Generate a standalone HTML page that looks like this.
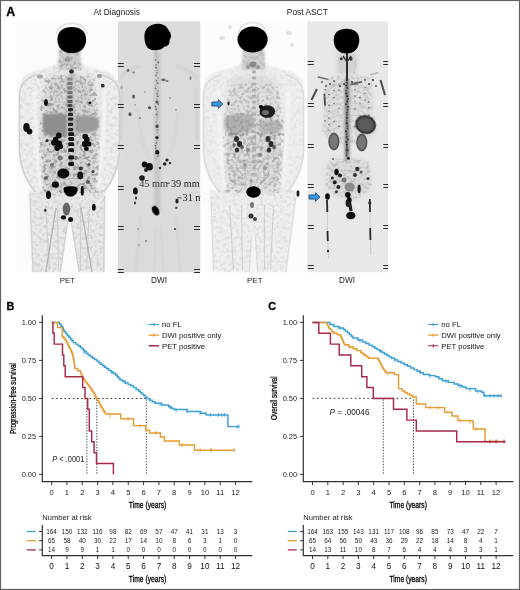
<!DOCTYPE html>
<html><head><meta charset="utf-8"><title>Figure</title>
<style>
html,body{margin:0;padding:0;background:#fff;}
body{width:520px;height:590px;overflow:hidden;font-family:"Liberation Sans",sans-serif;}
svg{display:block;filter:blur(0.35px);}
</style></head><body>
<svg width="520" height="590" viewBox="0 0 520 590">
<defs>
<filter id="b05" filterUnits="userSpaceOnUse" x="0" y="0" width="520" height="590"><feGaussianBlur stdDeviation="0.5"/></filter>
<filter id="b1" filterUnits="userSpaceOnUse" x="0" y="0" width="520" height="590"><feGaussianBlur stdDeviation="1"/></filter>
<filter id="b2" filterUnits="userSpaceOnUse" x="0" y="0" width="520" height="590"><feGaussianBlur stdDeviation="2"/></filter>
<filter id="b3" filterUnits="userSpaceOnUse" x="0" y="0" width="520" height="590"><feGaussianBlur stdDeviation="3"/></filter>
<filter id="mot" filterUnits="userSpaceOnUse" x="0" y="0" width="520" height="590">
<feTurbulence type="fractalNoise" baseFrequency="0.3" numOctaves="2" seed="7" result="n"/>
<feColorMatrix in="n" type="matrix" values="0 0 0 0 0  0 0 0 0 0  0 0 0 0 0  -4 0 0 0 2.2" result="a"/>
<feComposite in="a" in2="SourceGraphic" operator="in" result="c"/><feGaussianBlur in="c" stdDeviation="0.6"/>
</filter>
<filter id="mot2" filterUnits="userSpaceOnUse" x="0" y="0" width="520" height="590">
<feTurbulence type="fractalNoise" baseFrequency="0.3" numOctaves="2" seed="11" result="n"/>
<feColorMatrix in="n" type="matrix" values="0 0 0 0 0  0 0 0 0 0  0 0 0 0 0  -4 0 0 0 2.2" result="a"/>
<feComposite in="a" in2="SourceGraphic" operator="in" result="c"/><feGaussianBlur in="c" stdDeviation="0.6"/>
</filter>
</defs>
<rect x="0" y="0" width="520" height="590" fill="#fff"/>
<rect x="16.5" y="20.8" width="100.5" height="251.5" fill="#fbfbfb"/><rect x="117.8" y="21.4" width="82.6" height="250.8" fill="#dbdbdb"/><rect x="203.8" y="20.8" width="101" height="251.5" fill="#fbfbfb"/><rect x="307.3" y="21.4" width="80.7" height="250.8" fill="#e8e8e8"/><path d="M57.5,50 L57.5,63 C53.5,67 39.5,69 29.5,73 C22.5,76 19.5,82 19.0,92 L19.0,150 C19.5,165 24.5,180 34.5,192 L35.5,196 L103.5,196 L104.5,192 C114.5,180 119.5,165 120.0,150 L120.0,92 C119.5,82 116.5,76 109.5,73 C99.5,69 85.5,67 81.5,63 L81.5,50 Z" fill="#ededed" filter="url(#b1)"/><path d="M29.0,190 L105.4,190 L104.5,272 L32.3,272 Z" fill="#e9e9e9" filter="url(#b1)"/><path d="M47.5,78 C61.5,74 77.5,74 91.5,78 C99.5,110 99.5,160 95.5,192 L43.5,192 C39.5,160 39.5,110 47.5,78 Z" fill="#d6d6d6" filter="url(#b3)"/><path d="M45.5,77 C61.5,73 77.5,73 93.5,77 C101.5,110 101.5,160 96.5,193 L42.5,193 C37.5,160 37.5,110 45.5,77 Z" fill="#000" opacity="0.2" filter="url(#mot)"/><path d="M57.5,50 L57.5,63 C53.5,67 39.5,69 29.5,73 C22.5,76 19.5,82 19.0,92 L19.0,150 C19.5,165 24.5,180 34.5,192 L35.5,196 L103.5,196 L104.5,192 C114.5,180 119.5,165 120.0,150 L120.0,92 C119.5,82 116.5,76 109.5,73 C99.5,69 85.5,67 81.5,63 L81.5,50 Z" fill="#000" opacity="0.06" filter="url(#mot)"/><path d="M29.0,190 L105.4,190 L104.5,272 L32.3,272 Z" fill="#000" opacity="0.08000000000000002" filter="url(#mot)"/><path d="M68.5,221 L70.5,221 L78.5,272.5 L61.0,272.5 Z" fill="#fafafa" filter="url(#b05)"/><path d="M36.5,75 C23.5,79 20.0,86 19.5,95 L19.5,150 C20.0,166 25.5,180 35.5,192" stroke="#d0d0d0" stroke-width="1.6" fill="none" filter="url(#b05)"/><path d="M34.5,90 C35.0,120 36.0,150 40.5,188" stroke="#f4f4f4" stroke-width="3.4" fill="none" filter="url(#b1)"/><path d="M102.5,75 C115.5,79 119.0,86 119.5,95 L119.5,150 C119.0,166 113.5,180 103.5,192" stroke="#d0d0d0" stroke-width="1.6" fill="none" filter="url(#b05)"/><path d="M104.5,90 C104.0,120 103.0,150 98.5,188" stroke="#f4f4f4" stroke-width="3.4" fill="none" filter="url(#b1)"/><path d="M30.0,196 L33.099999999999994,272 M104.4,196 L103.7,272 M67.5,223 L60.2,272 M71.5,223 L79.3,272" stroke="#d0d0d0" stroke-width="1.2" fill="none" filter="url(#b05)"/><path d="M45.5,205 L49.5,270 M57.5,205 L58.5,270 M89.5,205 L86.5,270 M80.5,205 L80.5,270" stroke="#d0d0d0" stroke-width="1.2" fill="none" filter="url(#b05)"/><path d="M59.5,48 L79.5,48 L81.5,70 L57.5,70 Z" fill="#cfcfcf" filter="url(#b1)"/><path d="M59.5,50 L79.5,50 L81.5,70 L57.5,70 Z" fill="#000" opacity="0.16000000000000003" filter="url(#mot)"/><path d="M56,208 L45.8,272 M81,208 L92,272" stroke="#b4b4b4" stroke-width="1.4" fill="none" filter="url(#b05)"/><path d="M43,116 C44,113 58,113 67,114 L67,137 C58,137 48,137 44,133 C42.5,128 42.5,121 43,116 Z" fill="#8e8e8e" filter="url(#b1)"/><path d="M75,116 C82,115 94,115 98,118 C99,124 98.5,129 96,131 C90,132 82,133 75,132 Z" fill="#9a9a9a" filter="url(#b1)"/><path d="M67,114 L75,116 L75,132 L67,137 Z" fill="#b4b4b4" filter="url(#b1)"/><rect x="66.5" y="76" width="7" height="34" fill="#b8b8b8" filter="url(#b1)"/><ellipse cx="71.5" cy="71.5" rx="2.4" ry="2.2" fill="#2a2a2a" filter="url(#b05)"/><rect x="67.3" y="77.6" width="5.2" height="2.8" rx="1.2" fill="#8c8c8c" filter="url(#b05)"/><rect x="67.3" y="82.1" width="5.2" height="2.8" rx="1.2" fill="#7a7a7a" filter="url(#b05)"/><rect x="67.3" y="86.6" width="5.2" height="2.8" rx="1.2" fill="#7c7c7c" filter="url(#b05)"/><rect x="67.3" y="91.1" width="5.2" height="2.8" rx="1.2" fill="#707070" filter="url(#b05)"/><rect x="67.3" y="95.6" width="5.2" height="2.8" rx="1.2" fill="#666" filter="url(#b05)"/><rect x="67.3" y="100.1" width="5.2" height="2.8" rx="1.2" fill="#5a5a5a" filter="url(#b05)"/><rect x="67.3" y="104.1" width="5.2" height="2.8" rx="1.2" fill="#4a4a4a" filter="url(#b05)"/><rect x="68.0" y="108.0" width="5.2" height="3.3" rx="1.2" fill="#262626" filter="url(#b05)"/><rect x="68.0" y="112.8" width="5.2" height="3.3" rx="1.2" fill="#262626" filter="url(#b05)"/><rect x="68.0" y="117.4" width="5.2" height="3.3" rx="1.2" fill="#262626" filter="url(#b05)"/><rect x="68.0" y="122.8" width="5.2" height="3.3" rx="1.2" fill="#262626" filter="url(#b05)"/><rect x="68.0" y="127.9" width="5.2" height="3.3" rx="1.2" fill="#262626" filter="url(#b05)"/><rect x="68.3" y="132.3" width="5.8" height="3.8" rx="1.2" fill="#151515" filter="url(#b05)"/><rect x="68.3" y="137.1" width="5.8" height="3.8" rx="1.2" fill="#151515" filter="url(#b05)"/><rect x="68.3" y="142.3" width="5.8" height="3.8" rx="1.2" fill="#151515" filter="url(#b05)"/><rect x="68.3" y="148.3" width="5.8" height="3.8" rx="1.2" fill="#151515" filter="url(#b05)"/><rect x="68.3" y="155.6" width="5.8" height="3.8" rx="1.2" fill="#151515" filter="url(#b05)"/><rect x="68.3" y="162.1" width="5.8" height="3.8" rx="1.2" fill="#151515" filter="url(#b05)"/><ellipse cx="58.8" cy="135.4" rx="2.8" ry="3" fill="#080808" filter="url(#b05)"/><ellipse cx="55.6" cy="139.6" rx="2.8" ry="2.8" fill="#080808" filter="url(#b05)"/><ellipse cx="54" cy="142.8" rx="2.8" ry="3" fill="#080808" filter="url(#b05)"/><ellipse cx="58.8" cy="143.9" rx="3.4" ry="3.4" fill="#080808" filter="url(#b05)"/><ellipse cx="57.2" cy="148.1" rx="2.8" ry="2.8" fill="#080808" filter="url(#b05)"/><ellipse cx="60.9" cy="146.5" rx="2.3" ry="2.5" fill="#101010" filter="url(#b05)"/><ellipse cx="47.1" cy="140.7" rx="1.5" ry="1.4" fill="#222" filter="url(#b05)"/><ellipse cx="85.2" cy="136.5" rx="2.8" ry="2.8" fill="#080808" filter="url(#b05)"/><ellipse cx="86.8" cy="139.6" rx="2.8" ry="2.8" fill="#080808" filter="url(#b05)"/><ellipse cx="84.7" cy="143.9" rx="2.8" ry="3" fill="#080808" filter="url(#b05)"/><ellipse cx="88.9" cy="143.9" rx="2.4" ry="2.6" fill="#101010" filter="url(#b05)"/><ellipse cx="86.3" cy="148.6" rx="2.4" ry="2.5" fill="#101010" filter="url(#b05)"/><ellipse cx="26.5" cy="127.5" rx="3.2" ry="4.4" fill="#080808" filter="url(#b05)"/><ellipse cx="29.5" cy="131.5" rx="2.8" ry="3" fill="#080808" filter="url(#b05)"/><ellipse cx="46" cy="102.5" rx="1.9" ry="3.6" fill="#111" filter="url(#b05)"/><ellipse cx="90" cy="102.8" rx="1.4" ry="1.4" fill="#111" filter="url(#b05)"/><ellipse cx="102.7" cy="85.7" rx="1.9" ry="1.9" fill="#333" filter="url(#b05)"/><ellipse cx="99.5" cy="76" rx="2.6" ry="2" fill="#999" filter="url(#b05)"/><ellipse cx="40" cy="76.5" rx="3" ry="2" fill="#a8a8a8" filter="url(#b05)"/><ellipse cx="63.3" cy="173.5" rx="6" ry="5" fill="#0e0e0e" filter="url(#b05)"/><ellipse cx="80.3" cy="175.4" rx="3" ry="3.8" fill="#151515" filter="url(#b05)"/><ellipse cx="80.8" cy="168.5" rx="2" ry="2" fill="#333" filter="url(#b05)"/><ellipse cx="55.4" cy="184.6" rx="3.6" ry="3.2" fill="#0c0c0c" filter="url(#b05)"/><ellipse cx="48.5" cy="195" rx="2.6" ry="4" fill="#0c0c0c" filter="url(#b05)"/><ellipse cx="82.3" cy="190.8" rx="1.6" ry="5" fill="#111" filter="url(#b05)"/><ellipse cx="93.8" cy="207.3" rx="1.9" ry="3.5" fill="#111" filter="url(#b05)"/><ellipse cx="66.5" cy="209" rx="3.8" ry="6.5" fill="#666" filter="url(#b05)"/><ellipse cx="63.5" cy="217.4" rx="2.6" ry="2.2" fill="#111" filter="url(#b05)"/><ellipse cx="70.6" cy="219.4" rx="2.5" ry="2.5" fill="#111" filter="url(#b05)"/><ellipse cx="45.3" cy="210.3" rx="1.2" ry="1.5" fill="#333" filter="url(#b05)"/><ellipse cx="67.5" cy="59.5" rx="3" ry="2.2" fill="#999" filter="url(#b05)"/><ellipse cx="93" cy="171.5" rx="1.5" ry="1.5" fill="#444" filter="url(#b05)"/><ellipse cx="89" cy="164.6" rx="1.5" ry="1.5" fill="#555" filter="url(#b05)"/><ellipse cx="52" cy="165" rx="2" ry="2" fill="#777" filter="url(#b05)"/><ellipse cx="88" cy="182" rx="2" ry="2" fill="#555" filter="url(#b05)"/><ellipse cx="46" cy="178" rx="2" ry="2" fill="#666" filter="url(#b05)"/><ellipse cx="60" cy="158" rx="2.5" ry="2.5" fill="#777" filter="url(#b05)"/><ellipse cx="76" cy="158" rx="2" ry="2" fill="#777" filter="url(#b05)"/><path d="M63.6,188.5 C63.8,185.6 77.4,185.6 77.6,188.5 C78,193 74.5,196.6 70.6,196.6 C66.8,196.6 63.3,193 63.6,188.5 Z" fill="#050505" filter="url(#b05)"/><path d="M56.5,34 C58.5,26 65,23.4 71.8,23.4 C78.5,23.4 85,26 87,34" stroke="#e0e0e0" stroke-width="1.6" fill="none" filter="url(#b05)"/><path d="M57.4,39.5 C57.4,31 63.5,27 71.8,27 C80,27 86.1,31 86.1,39.5 C86.1,47.5 80.5,53.3 71.8,53.3 C63,53.3 57.4,47.5 57.4,39.5 Z" fill="#000" filter="url(#b05)"/><path d="M121,80 C124,70 132,68 140,67 M176,67 C186,68 194,72 197,80 M121.5,88 L121,140 M196,88 L197,140" stroke="#cdcdcd" stroke-width="2" fill="none" filter="url(#b1)"/><path d="M138,110 C140,140 146,150 150,160 M178,110 C176,140 172,150 168,160" stroke="#d0d0d0" stroke-width="1.5" fill="none" filter="url(#b1)"/><path d="M140,215 L136,272 M176,215 L180,272 M156,225 L154,272 M161,225 L163,272" stroke="#cfcfcf" stroke-width="1.5" fill="none" filter="url(#b1)"/><path d="M117.8,63.5h6M117.8,66.5h6" stroke="#2a2a2a" stroke-width="1"/><path d="M117.8,104.5h6M117.8,107.5h6" stroke="#2a2a2a" stroke-width="1"/><path d="M117.8,145.5h6M117.8,148.5h6" stroke="#2a2a2a" stroke-width="1"/><path d="M117.8,186.5h6M117.8,189.5h6" stroke="#2a2a2a" stroke-width="1"/><path d="M117.8,226.5h6M117.8,229.5h6" stroke="#2a2a2a" stroke-width="1"/><path d="M117.8,269.5h6M117.8,272.5h6" stroke="#2a2a2a" stroke-width="1"/><path d="M194,63.5h6M194,66.5h6" stroke="#2a2a2a" stroke-width="1"/><path d="M194,104.5h6M194,107.5h6" stroke="#2a2a2a" stroke-width="1"/><path d="M194,145.5h6M194,148.5h6" stroke="#2a2a2a" stroke-width="1"/><path d="M194,226.5h6M194,229.5h6" stroke="#2a2a2a" stroke-width="1"/><path d="M194,269.5h6M194,272.5h6" stroke="#2a2a2a" stroke-width="1"/><rect x="154" y="52" width="6.5" height="160" fill="#c8c8c8" filter="url(#b1)"/><ellipse cx="156.2" cy="52.0" rx="0.9" ry="0.9" fill="#aaa" filter="url(#b05)"/><ellipse cx="155.8" cy="54.6" rx="0.9" ry="0.9" fill="#aaa" filter="url(#b05)"/><ellipse cx="156.9" cy="57.2" rx="0.9" ry="0.9" fill="#aaa" filter="url(#b05)"/><ellipse cx="155.6" cy="59.8" rx="0.9" ry="0.9" fill="#777" filter="url(#b05)"/><ellipse cx="158.3" cy="62.4" rx="0.9" ry="0.9" fill="#666" filter="url(#b05)"/><ellipse cx="156.2" cy="65.0" rx="0.9" ry="0.9" fill="#888" filter="url(#b05)"/><ellipse cx="156.0" cy="67.6" rx="0.9" ry="0.9" fill="#666" filter="url(#b05)"/><ellipse cx="157.1" cy="70.2" rx="0.9" ry="0.9" fill="#aaa" filter="url(#b05)"/><ellipse cx="156.9" cy="72.8" rx="0.9" ry="0.9" fill="#888" filter="url(#b05)"/><ellipse cx="156.1" cy="75.4" rx="0.9" ry="0.9" fill="#888" filter="url(#b05)"/><ellipse cx="158.2" cy="78.0" rx="0.9" ry="0.9" fill="#aaa" filter="url(#b05)"/><ellipse cx="156.6" cy="80.6" rx="0.9" ry="0.9" fill="#777" filter="url(#b05)"/><ellipse cx="157.5" cy="83.2" rx="0.9" ry="0.9" fill="#777" filter="url(#b05)"/><ellipse cx="155.9" cy="85.8" rx="0.9" ry="0.9" fill="#aaa" filter="url(#b05)"/><ellipse cx="155.5" cy="88.4" rx="0.9" ry="0.9" fill="#777" filter="url(#b05)"/><ellipse cx="158.0" cy="91.0" rx="0.9" ry="0.9" fill="#999" filter="url(#b05)"/><ellipse cx="156.9" cy="93.6" rx="0.9" ry="0.9" fill="#666" filter="url(#b05)"/><ellipse cx="157.7" cy="96.2" rx="0.9" ry="0.9" fill="#666" filter="url(#b05)"/><ellipse cx="156.7" cy="98.8" rx="0.9" ry="0.9" fill="#aaa" filter="url(#b05)"/><ellipse cx="156.8" cy="101.4" rx="0.9" ry="0.9" fill="#888" filter="url(#b05)"/><ellipse cx="158.2" cy="104.0" rx="0.9" ry="0.9" fill="#777" filter="url(#b05)"/><ellipse cx="155.5" cy="106.6" rx="0.9" ry="0.9" fill="#666" filter="url(#b05)"/><ellipse cx="156.1" cy="109.2" rx="0.9" ry="0.9" fill="#666" filter="url(#b05)"/><ellipse cx="157.9" cy="111.8" rx="0.9" ry="0.9" fill="#999" filter="url(#b05)"/><ellipse cx="156.7" cy="114.4" rx="0.9" ry="0.9" fill="#666" filter="url(#b05)"/><ellipse cx="157.2" cy="117.0" rx="0.9" ry="0.9" fill="#aaa" filter="url(#b05)"/><ellipse cx="157.3" cy="119.6" rx="0.9" ry="0.9" fill="#aaa" filter="url(#b05)"/><ellipse cx="156.1" cy="122.2" rx="0.9" ry="0.9" fill="#999" filter="url(#b05)"/><ellipse cx="157.6" cy="124.8" rx="0.9" ry="0.9" fill="#777" filter="url(#b05)"/><ellipse cx="158.1" cy="127.4" rx="0.9" ry="0.9" fill="#aaa" filter="url(#b05)"/><ellipse cx="157.5" cy="130.0" rx="0.9" ry="0.9" fill="#888" filter="url(#b05)"/><ellipse cx="157.6" cy="132.6" rx="0.9" ry="0.9" fill="#999" filter="url(#b05)"/><ellipse cx="158.5" cy="135.2" rx="0.9" ry="0.9" fill="#aaa" filter="url(#b05)"/><ellipse cx="157.2" cy="137.8" rx="0.9" ry="0.9" fill="#888" filter="url(#b05)"/><ellipse cx="157.4" cy="140.4" rx="0.9" ry="0.9" fill="#aaa" filter="url(#b05)"/><ellipse cx="156.3" cy="143.0" rx="0.9" ry="0.9" fill="#777" filter="url(#b05)"/><ellipse cx="155.6" cy="145.6" rx="0.9" ry="0.9" fill="#666" filter="url(#b05)"/><ellipse cx="155.7" cy="148.2" rx="0.9" ry="0.9" fill="#777" filter="url(#b05)"/><ellipse cx="156.7" cy="150.8" rx="0.9" ry="0.9" fill="#888" filter="url(#b05)"/><ellipse cx="155.5" cy="153.4" rx="0.9" ry="0.9" fill="#666" filter="url(#b05)"/><ellipse cx="157.9" cy="156.0" rx="0.9" ry="0.9" fill="#777" filter="url(#b05)"/><ellipse cx="155.5" cy="158.6" rx="0.9" ry="0.9" fill="#aaa" filter="url(#b05)"/><ellipse cx="157" cy="137.6" rx="1.7" ry="1.7" fill="#222" filter="url(#b05)"/><ellipse cx="157.5" cy="152.5" rx="1.9" ry="1.9" fill="#1a1a1a" filter="url(#b05)"/><ellipse cx="157" cy="126.4" rx="1.6" ry="1.6" fill="#444" filter="url(#b05)"/><ellipse cx="157" cy="102" rx="1.6" ry="1.6" fill="#555" filter="url(#b05)"/><ellipse cx="128" cy="70.5" rx="1.4" ry="1.4" fill="#666" filter="url(#b05)"/><ellipse cx="133.6" cy="72.4" rx="1.1" ry="1.1" fill="#777" filter="url(#b05)"/><ellipse cx="163.4" cy="79.8" rx="2.2" ry="1.4" fill="#666" filter="url(#b05)"/><ellipse cx="133.6" cy="96.6" rx="1.3" ry="2.2" fill="#555" filter="url(#b05)"/><ellipse cx="149.5" cy="107.8" rx="1.5" ry="1.5" fill="#444" filter="url(#b05)"/><ellipse cx="130" cy="114.3" rx="1.5" ry="2" fill="#555" filter="url(#b05)"/><ellipse cx="190.5" cy="78" rx="1.1" ry="2" fill="#888" filter="url(#b05)"/><ellipse cx="121.5" cy="87.3" rx="1.1" ry="2" fill="#aaa" filter="url(#b05)"/><ellipse cx="140" cy="118" rx="1.2" ry="1.2" fill="#999" filter="url(#b05)"/><ellipse cx="135" cy="105" rx="1" ry="1" fill="#aaa" filter="url(#b05)"/><ellipse cx="145" cy="92" rx="1" ry="1" fill="#aaa" filter="url(#b05)"/><ellipse cx="170" cy="98" rx="1.2" ry="1.2" fill="#aaa" filter="url(#b05)"/><ellipse cx="176" cy="110" rx="1" ry="1" fill="#aaa" filter="url(#b05)"/><ellipse cx="167" cy="81" rx="1.5" ry="1" fill="#777" filter="url(#b05)"/><ellipse cx="149.4" cy="166.7" rx="3.6" ry="3.8" fill="#0a0a0a" filter="url(#b05)"/><ellipse cx="144.5" cy="164.5" rx="2.8" ry="3" fill="#111" filter="url(#b05)"/><ellipse cx="146" cy="170" rx="2" ry="2" fill="#222" filter="url(#b05)"/><ellipse cx="142" cy="178" rx="2.8" ry="2.8" fill="#1a1a1a" filter="url(#b05)"/><ellipse cx="135.4" cy="191" rx="2.4" ry="3.6" fill="#0a0a0a" filter="url(#b05)"/><ellipse cx="177" cy="201" rx="1.6" ry="2.6" fill="#222" filter="url(#b05)"/><ellipse cx="164.7" cy="164" rx="1.8" ry="1.8" fill="#222" filter="url(#b05)"/><ellipse cx="167" cy="160" rx="1.6" ry="1.6" fill="#222" filter="url(#b05)"/><ellipse cx="157" cy="151.5" rx="1.8" ry="1.8" fill="#222" filter="url(#b05)"/><ellipse cx="170" cy="163" rx="1.2" ry="1.2" fill="#333" filter="url(#b05)"/><ellipse cx="160" cy="168" rx="1.2" ry="1.2" fill="#333" filter="url(#b05)"/><ellipse cx="136" cy="198" rx="1" ry="1.6" fill="#333" filter="url(#b05)"/><ellipse cx="135" cy="203" rx="1" ry="1.4" fill="#333" filter="url(#b05)"/><ellipse cx="176.3" cy="207.7" rx="1.3" ry="1.3" fill="#555" filter="url(#b05)"/><ellipse cx="138" cy="229" rx="1" ry="1" fill="#aaa" filter="url(#b05)"/><ellipse cx="146" cy="241" rx="1.2" ry="1.2" fill="#999" filter="url(#b05)"/><ellipse cx="139" cy="245" rx="1" ry="1" fill="#aaa" filter="url(#b05)"/><ellipse cx="175" cy="229" rx="1" ry="1" fill="#333" filter="url(#b05)"/><path d="M157.7,23.7 C163,23.7 167,26 168.5,30 C170.5,32 171.3,35 171,37 C170.5,39 169,40 169.5,42 C169.5,45 166,47 164.6,46.5 C162,49.5 158,50.4 154.8,50.2 C151,50.3 148.5,49 147,47 C145,44 144.3,40 144.4,35.8 C144.5,29 150,23.7 157.7,23.7 Z" fill="#000" filter="url(#b05)"/><ellipse cx="155.6" cy="210.6" rx="3.3" ry="5.2" fill="#050505" transform="rotate(-28 155.6 210.6)" filter="url(#b05)"/><text x="139.2" y="186.6" font-family="Liberation Serif" font-size="10.3" font-weight="normal" fill="#333" text-anchor="start"  style="">45 mm</text><text x="170.9" y="186.6" font-family="Liberation Serif" font-size="10.3" font-weight="normal" fill="#222" text-anchor="start"  style="">39 mm</text><text x="182.5" y="201.2" font-family="Liberation Serif" font-size="10.3" font-weight="normal" fill="#222" text-anchor="start"  style="">31 m</text><path d="M166.6,183.2 H170 M177.5,197.8 H181.5" stroke="#333" stroke-width="0.9"/><rect x="200.4" y="176" width="3.4" height="30" fill="#fbfbfb"/><path d="M241.5,50 L241.5,63 C237.5,67 223.5,69 213.5,73 C206.5,76 203.5,82 203.0,92 L203.0,150 C203.5,165 208.5,180 218.5,192 L219.5,196 L287.5,196 L288.5,192 C298.5,180 303.5,165 304.0,150 L304.0,92 C303.5,82 300.5,76 293.5,73 C283.5,69 269.5,67 265.5,63 L265.5,50 Z" fill="#eeeeee" filter="url(#b1)"/><path d="M210.0,190 L297.0,190 L286.5,272 L212.8,272 Z" fill="#eeeeee" filter="url(#b1)"/><path d="M231.5,78 C245.5,74 261.5,74 275.5,78 C283.5,110 283.5,160 279.5,192 L227.5,192 C223.5,160 223.5,110 231.5,78 Z" fill="#dedede" filter="url(#b3)"/><path d="M229.5,86 C245.5,82 261.5,82 277.5,86 C285.5,119 285.5,160 280.5,193 L226.5,193 C221.5,160 221.5,119 229.5,86 Z" fill="#000" opacity="0.12" filter="url(#mot2)"/><path d="M241.5,50 L241.5,63 C237.5,67 223.5,69 213.5,73 C206.5,76 203.5,82 203.0,92 L203.0,150 C203.5,165 208.5,180 218.5,192 L219.5,196 L287.5,196 L288.5,192 C298.5,180 303.5,165 304.0,150 L304.0,92 C303.5,82 300.5,76 293.5,73 C283.5,69 269.5,67 265.5,63 L265.5,50 Z" fill="#000" opacity="0.036" filter="url(#mot2)"/><path d="M210.0,190 L297.0,190 L286.5,272 L212.8,272 Z" fill="#000" opacity="0.048" filter="url(#mot2)"/><path d="M252.5,234 L254.5,234 L257.0,272.5 L250.0,272.5 Z" fill="#f4f4f4" filter="url(#b05)"/><path d="M220.5,75 C207.5,79 204.0,86 203.5,95 L203.5,150 C204.0,166 209.5,180 219.5,192" stroke="#dcdcdc" stroke-width="1.6" fill="none" filter="url(#b05)"/><path d="M218.5,90 C219.0,120 220.0,150 224.5,188" stroke="#f4f4f4" stroke-width="3.4" fill="none" filter="url(#b1)"/><path d="M286.5,75 C299.5,79 303.0,86 303.5,95 L303.5,150 C303.0,166 297.5,180 287.5,192" stroke="#dcdcdc" stroke-width="1.6" fill="none" filter="url(#b05)"/><path d="M288.5,90 C288.0,120 287.0,150 282.5,188" stroke="#f4f4f4" stroke-width="3.4" fill="none" filter="url(#b1)"/><path d="M211.0,196 L213.60000000000002,272 M296.0,196 L285.7,272 M251.5,236 L249.2,272 M255.5,236 L257.8,272" stroke="#dcdcdc" stroke-width="1.2" fill="none" filter="url(#b05)"/><path d="M229.5,205 L233.5,270 M241.5,205 L242.5,270 M273.5,205 L270.5,270 M264.5,205 L264.5,270" stroke="#d0d0d0" stroke-width="1.2" fill="none" filter="url(#b05)"/><path d="M243.5,48 L263.5,48 L265.5,70 L241.5,70 Z" fill="#cfcfcf" filter="url(#b1)"/><path d="M243.5,50 L263.5,50 L265.5,70 L241.5,70 Z" fill="#000" opacity="0.096" filter="url(#mot2)"/><path d="M224.5,118 C227,113.5 240,113 250,114.5 C254,116 255,122 253.5,127 C250,132 240,135.5 230,135 C225.5,132 224,125 224.5,118 Z" fill="#b2b2b2" filter="url(#b1)"/><path d="M259.6,122 C266,119.5 277,119.5 281,122.5 C282,127 281,131 278,133.5 C272,135 265,134.5 260,133 C258.5,129 258.5,125 259.6,122 Z" fill="#b8b8b8" filter="url(#b1)"/><path d="M224,113 L284,113 L284,137 L224,137 Z" fill="#000" opacity="0.1" filter="url(#mot2)"/><path d="M228,132 L280,132 L282,185 L226,185 Z" fill="#000" opacity="0.12" filter="url(#mot)"/><rect x="251.9" y="70.5" width="4.2" height="3.0" rx="1.2" fill="#b0b0b0" filter="url(#b05)"/><rect x="251.9" y="76.5" width="4.2" height="3.0" rx="1.2" fill="#b0b0b0" filter="url(#b05)"/><rect x="251.9" y="82.5" width="4.2" height="3.0" rx="1.2" fill="#b0b0b0" filter="url(#b05)"/><rect x="251.9" y="88.5" width="4.2" height="3.0" rx="1.2" fill="#b0b0b0" filter="url(#b05)"/><rect x="251.9" y="94.5" width="4.2" height="3.0" rx="1.2" fill="#b0b0b0" filter="url(#b05)"/><rect x="251.9" y="100.5" width="4.2" height="3.0" rx="1.2" fill="#b0b0b0" filter="url(#b05)"/><rect x="251.9" y="106.5" width="4.2" height="3.0" rx="1.2" fill="#b0b0b0" filter="url(#b05)"/><rect x="251.9" y="112.5" width="4.2" height="3.0" rx="1.2" fill="#b0b0b0" filter="url(#b05)"/><rect x="251.9" y="118.5" width="4.2" height="3.0" rx="1.2" fill="#b0b0b0" filter="url(#b05)"/><rect x="251.9" y="124.5" width="4.2" height="3.0" rx="1.2" fill="#b0b0b0" filter="url(#b05)"/><rect x="251.9" y="130.5" width="4.2" height="3.0" rx="1.2" fill="#b0b0b0" filter="url(#b05)"/><rect x="251.9" y="136.5" width="4.2" height="3.0" rx="1.2" fill="#b0b0b0" filter="url(#b05)"/><rect x="251.9" y="142.5" width="4.2" height="3.0" rx="1.2" fill="#b0b0b0" filter="url(#b05)"/><rect x="251.9" y="148.5" width="4.2" height="3.0" rx="1.2" fill="#b0b0b0" filter="url(#b05)"/><rect x="251.9" y="154.5" width="4.2" height="3.0" rx="1.2" fill="#b0b0b0" filter="url(#b05)"/><rect x="251.9" y="160.5" width="4.2" height="3.0" rx="1.2" fill="#b0b0b0" filter="url(#b05)"/><rect x="251.9" y="166.5" width="4.2" height="3.0" rx="1.2" fill="#b0b0b0" filter="url(#b05)"/><ellipse cx="267.3" cy="111.5" rx="7.8" ry="6.3" fill="#1e1e1e" filter="url(#b05)"/><ellipse cx="265.5" cy="112.5" rx="3.6" ry="2.6" fill="#6a6a6a" filter="url(#b05)"/><ellipse cx="261" cy="107" rx="2" ry="2" fill="#000" filter="url(#b05)"/><ellipse cx="253.5" cy="192" rx="7.3" ry="5.7" fill="#000" filter="url(#b05)"/><ellipse cx="251" cy="216" rx="2.5" ry="2.5" fill="#333" filter="url(#b05)"/><ellipse cx="255" cy="219" rx="2" ry="2" fill="#444" filter="url(#b05)"/><ellipse cx="252" cy="205" rx="2" ry="3" fill="#777" filter="url(#b05)"/><ellipse cx="298" cy="193.4" rx="1.5" ry="3.2" fill="#222" filter="url(#b05)"/><ellipse cx="228.5" cy="103.5" rx="1.1" ry="1.9" fill="#222" filter="url(#b05)"/><ellipse cx="236.5" cy="139" rx="2.5" ry="3" fill="#333" filter="url(#b05)"/><ellipse cx="239.5" cy="144" rx="2.5" ry="3" fill="#222" filter="url(#b05)"/><ellipse cx="237" cy="150" rx="2.2" ry="2.5" fill="#333" filter="url(#b05)"/><ellipse cx="242" cy="147" rx="1.8" ry="2" fill="#555" filter="url(#b05)"/><ellipse cx="234" cy="145" rx="1.5" ry="2" fill="#666" filter="url(#b05)"/><ellipse cx="268" cy="139" rx="2.5" ry="3" fill="#333" filter="url(#b05)"/><ellipse cx="271" cy="144" rx="2.5" ry="3" fill="#2a2a2a" filter="url(#b05)"/><ellipse cx="269" cy="150" rx="2.2" ry="2.5" fill="#333" filter="url(#b05)"/><ellipse cx="274" cy="147" rx="1.8" ry="2" fill="#555" filter="url(#b05)"/><ellipse cx="248" cy="150" rx="2" ry="2" fill="#888" filter="url(#b05)"/><ellipse cx="260" cy="155" rx="2" ry="2" fill="#888" filter="url(#b05)"/><ellipse cx="245" cy="165" rx="2" ry="2" fill="#999" filter="url(#b05)"/><ellipse cx="265" cy="168" rx="2" ry="2" fill="#999" filter="url(#b05)"/><ellipse cx="253" cy="64.5" rx="3.5" ry="3" fill="#888" filter="url(#b05)"/><ellipse cx="248" cy="67" rx="2" ry="2" fill="#999" filter="url(#b05)"/><ellipse cx="258" cy="67" rx="2" ry="2" fill="#999" filter="url(#b05)"/><ellipse cx="222" cy="38" rx="3" ry="2" fill="#e0e0e0" filter="url(#b05)"/><ellipse cx="230" cy="27" rx="2" ry="2" fill="#e4e4e4" filter="url(#b05)"/><ellipse cx="289" cy="33" rx="3" ry="2" fill="#e2e2e2" filter="url(#b05)"/><ellipse cx="292" cy="45" rx="2" ry="2" fill="#e2e2e2" filter="url(#b05)"/><path d="M238,33 C241,25 247,22.5 252.6,22.5 C258,22.5 264,25 267,33" stroke="#e2e2e2" stroke-width="1.6" fill="none" filter="url(#b05)"/><ellipse cx="252.6" cy="39.5" rx="15.1" ry="13" fill="#000" filter="url(#b05)"/><path d="M211.9,102 h6.4 v-2.3 l4.6,4.3 l-4.6,4.3 v-2.3 h-6.4z" fill="#3a98dc" stroke="#1d4a78" stroke-width="0.9" stroke-linejoin="round"/><path d="M326,78 C336,74 360,74 372,78 L376,132 C370,150 330,150 322,132 Z" fill="#e0e0e0" filter="url(#b2)"/><path d="M326,78 C336,74 360,74 372,78 L376,132 C370,150 330,150 322,132 Z" fill="#000" opacity="0.09" filter="url(#mot)"/><path d="M344,85 C338,84 330,87 325.0,93M350,85 C356,84 364,87 370.0,93M344,91 C338,90 330,93 325.3,99M350,91 C356,90 364,93 369.7,99M344,97 C338,96 330,99 325.6,105M350,97 C356,96 364,99 369.4,105M344,103 C338,102 330,105 325.9,111M350,103 C356,102 364,105 369.1,111M344,109 C338,108 330,111 326.2,117M350,109 C356,108 364,111 368.8,117M344,115 C338,114 330,117 326.5,123M350,115 C356,114 364,117 368.5,123M344,121 C338,120 330,123 326.8,129M350,121 C356,120 364,123 368.2,129M344,127 C338,126 330,129 327.1,135M350,127 C356,126 364,129 367.9,135" stroke="#cccccc" stroke-width="1.2" fill="none" filter="url(#b05)"/><path d="M317.7,76.8 L328.5,79.5" stroke="#7a7a7a" stroke-width="1.8" fill="none" filter="url(#b05)"/><path d="M370.2,74.8 L378.3,72.8" stroke="#b8b8b8" stroke-width="1.6" fill="none" filter="url(#b05)"/><path d="M350,85 C354,83 358,82.5 362,82" stroke="#666" stroke-width="1.8" fill="none" filter="url(#b05)"/><path d="M324.4,93.6 L325,105.8" stroke="#444" stroke-width="1.8" fill="none" filter="url(#b05)"/><path d="M339.2,60 L342,73.5 M355.4,60 L354,73.5" stroke="#9a9a9a" stroke-width="1.5" fill="none" filter="url(#b05)"/><rect x="344" y="78" width="6.5" height="90" fill="#bdbdbd" filter="url(#b1)"/><path d="M311.5,100 L317,89 M380.5,80 L385,95" stroke="#4a4a4a" stroke-width="2" fill="none" filter="url(#b05)"/><path d="M307.8,61.5h6M307.8,64.5h6" stroke="#2a2a2a" stroke-width="1"/><path d="M307.8,103.5h6M307.8,106.5h6" stroke="#2a2a2a" stroke-width="1"/><path d="M307.8,144.5h6M307.8,147.5h6" stroke="#2a2a2a" stroke-width="1"/><path d="M307.8,184.5h6M307.8,187.5h6" stroke="#2a2a2a" stroke-width="1"/><path d="M307.8,225.5h6M307.8,228.5h6" stroke="#2a2a2a" stroke-width="1"/><path d="M307.8,265.5h6M307.8,268.5h6" stroke="#2a2a2a" stroke-width="1"/><path d="M383.3,61.5h4.7M383.3,64.5h4.7" stroke="#2a2a2a" stroke-width="1"/><path d="M383.3,103.5h4.7M383.3,106.5h4.7" stroke="#2a2a2a" stroke-width="1"/><path d="M383.3,144.5h4.7M383.3,147.5h4.7" stroke="#2a2a2a" stroke-width="1"/><path d="M383.3,184.5h4.7M383.3,187.5h4.7" stroke="#2a2a2a" stroke-width="1"/><path d="M383.3,225.5h4.7M383.3,228.5h4.7" stroke="#2a2a2a" stroke-width="1"/><path d="M383.3,265.5h4.7M383.3,268.5h4.7" stroke="#2a2a2a" stroke-width="1"/><rect x="337" y="52" width="20" height="22" fill="#d2d2d2" filter="url(#b2)"/><ellipse cx="341.3" cy="58.7" rx="1.5" ry="1.5" fill="#333" filter="url(#b05)"/><ellipse cx="351" cy="58.7" rx="1.5" ry="2" fill="#333" filter="url(#b05)"/><path d="M347,52 V80" stroke="#111" stroke-width="1.7" filter="url(#b05)"/><path d="M343,56 L347,62 L351,56" stroke="#333" stroke-width="1.4" fill="none" filter="url(#b05)"/><path d="M347,80 V172" stroke="#6a6a6a" stroke-width="2.6" filter="url(#b1)"/><ellipse cx="346.9" cy="80.0" rx="1.0" ry="1.0" fill="#222" filter="url(#b05)"/><ellipse cx="346.9" cy="82.7" rx="1.0" ry="1.0" fill="#444" filter="url(#b05)"/><ellipse cx="346.2" cy="85.4" rx="1.0" ry="1.0" fill="#222" filter="url(#b05)"/><ellipse cx="347.3" cy="88.1" rx="1.0" ry="1.0" fill="#444" filter="url(#b05)"/><ellipse cx="346.0" cy="90.8" rx="1.0" ry="1.0" fill="#555" filter="url(#b05)"/><ellipse cx="346.1" cy="93.5" rx="1.0" ry="1.0" fill="#333" filter="url(#b05)"/><ellipse cx="347.2" cy="96.2" rx="1.0" ry="1.0" fill="#222" filter="url(#b05)"/><ellipse cx="348.1" cy="98.9" rx="1.0" ry="1.0" fill="#444" filter="url(#b05)"/><ellipse cx="347.3" cy="101.6" rx="1.0" ry="1.0" fill="#333" filter="url(#b05)"/><ellipse cx="345.9" cy="104.3" rx="1.0" ry="1.0" fill="#444" filter="url(#b05)"/><ellipse cx="347.9" cy="107.0" rx="1.0" ry="1.0" fill="#333" filter="url(#b05)"/><ellipse cx="347.7" cy="109.7" rx="1.0" ry="1.0" fill="#555" filter="url(#b05)"/><ellipse cx="346.9" cy="112.4" rx="1.0" ry="1.0" fill="#444" filter="url(#b05)"/><ellipse cx="347.0" cy="115.1" rx="1.0" ry="1.0" fill="#555" filter="url(#b05)"/><ellipse cx="347.0" cy="117.8" rx="1.0" ry="1.0" fill="#333" filter="url(#b05)"/><ellipse cx="346.9" cy="120.5" rx="1.0" ry="1.0" fill="#555" filter="url(#b05)"/><ellipse cx="346.8" cy="123.2" rx="1.0" ry="1.0" fill="#333" filter="url(#b05)"/><ellipse cx="347.5" cy="125.9" rx="1.0" ry="1.0" fill="#555" filter="url(#b05)"/><ellipse cx="347.6" cy="128.6" rx="1.0" ry="1.0" fill="#555" filter="url(#b05)"/><ellipse cx="345.9" cy="131.3" rx="1.0" ry="1.0" fill="#333" filter="url(#b05)"/><ellipse cx="346.8" cy="134.0" rx="1.0" ry="1.0" fill="#555" filter="url(#b05)"/><ellipse cx="346.7" cy="136.7" rx="1.0" ry="1.0" fill="#333" filter="url(#b05)"/><ellipse cx="347.8" cy="139.4" rx="1.0" ry="1.0" fill="#333" filter="url(#b05)"/><ellipse cx="346.3" cy="142.1" rx="1.0" ry="1.0" fill="#333" filter="url(#b05)"/><ellipse cx="346.9" cy="144.8" rx="1.0" ry="1.0" fill="#222" filter="url(#b05)"/><ellipse cx="346.8" cy="147.5" rx="1.0" ry="1.0" fill="#444" filter="url(#b05)"/><ellipse cx="347.7" cy="150.2" rx="1.0" ry="1.0" fill="#555" filter="url(#b05)"/><ellipse cx="346.6" cy="152.9" rx="1.0" ry="1.0" fill="#555" filter="url(#b05)"/><ellipse cx="346.6" cy="155.6" rx="1.0" ry="1.0" fill="#222" filter="url(#b05)"/><ellipse cx="347.6" cy="158.3" rx="1.0" ry="1.0" fill="#333" filter="url(#b05)"/><ellipse cx="346.1" cy="161.0" rx="1.0" ry="1.0" fill="#333" filter="url(#b05)"/><ellipse cx="345.8" cy="163.7" rx="1.0" ry="1.0" fill="#222" filter="url(#b05)"/><ellipse cx="347.7" cy="166.4" rx="1.0" ry="1.0" fill="#444" filter="url(#b05)"/><ellipse cx="347.4" cy="169.1" rx="1.0" ry="1.0" fill="#444" filter="url(#b05)"/><ellipse cx="339.0" cy="84.2" rx="0.9" ry="0.8" fill="#888" filter="url(#b05)"/><ellipse cx="355.0" cy="84.2" rx="0.9" ry="0.8" fill="#666" filter="url(#b05)"/><ellipse cx="334.0" cy="85.5" rx="0.9" ry="0.8" fill="#999" filter="url(#b05)"/><ellipse cx="365.0" cy="87.2" rx="0.9" ry="0.8" fill="#777" filter="url(#b05)"/><ellipse cx="325.0" cy="89.7" rx="0.9" ry="0.8" fill="#666" filter="url(#b05)"/><ellipse cx="339.0" cy="90.0" rx="0.9" ry="0.8" fill="#777" filter="url(#b05)"/><ellipse cx="355.0" cy="89.6" rx="0.9" ry="0.8" fill="#888" filter="url(#b05)"/><ellipse cx="334.0" cy="90.8" rx="0.9" ry="0.8" fill="#666" filter="url(#b05)"/><ellipse cx="329.0" cy="94.5" rx="0.9" ry="0.8" fill="#666" filter="url(#b05)"/><ellipse cx="365.0" cy="93.4" rx="0.9" ry="0.8" fill="#888" filter="url(#b05)"/><ellipse cx="325.0" cy="97.0" rx="0.9" ry="0.8" fill="#888" filter="url(#b05)"/><ellipse cx="355.0" cy="96.1" rx="0.9" ry="0.8" fill="#777" filter="url(#b05)"/><ellipse cx="334.0" cy="97.5" rx="0.9" ry="0.8" fill="#777" filter="url(#b05)"/><ellipse cx="360.0" cy="97.6" rx="0.9" ry="0.8" fill="#666" filter="url(#b05)"/><ellipse cx="365.0" cy="100.1" rx="0.9" ry="0.8" fill="#888" filter="url(#b05)"/><ellipse cx="369.0" cy="101.9" rx="0.9" ry="0.8" fill="#777" filter="url(#b05)"/><ellipse cx="355.0" cy="101.8" rx="0.9" ry="0.8" fill="#999" filter="url(#b05)"/><ellipse cx="334.0" cy="103.5" rx="0.9" ry="0.8" fill="#777" filter="url(#b05)"/><ellipse cx="360.0" cy="103.1" rx="0.9" ry="0.8" fill="#888" filter="url(#b05)"/><ellipse cx="329.0" cy="105.3" rx="0.9" ry="0.8" fill="#666" filter="url(#b05)"/><ellipse cx="369.0" cy="107.9" rx="0.9" ry="0.8" fill="#777" filter="url(#b05)"/><ellipse cx="339.0" cy="108.3" rx="0.9" ry="0.8" fill="#999" filter="url(#b05)"/><ellipse cx="355.0" cy="109.1" rx="0.9" ry="0.8" fill="#777" filter="url(#b05)"/><ellipse cx="329.0" cy="111.2" rx="0.9" ry="0.8" fill="#777" filter="url(#b05)"/><ellipse cx="369.0" cy="115.1" rx="0.9" ry="0.8" fill="#666" filter="url(#b05)"/><ellipse cx="360.0" cy="115.8" rx="0.9" ry="0.8" fill="#777" filter="url(#b05)"/><ellipse cx="329.0" cy="118.1" rx="0.9" ry="0.8" fill="#777" filter="url(#b05)"/><ellipse cx="325.0" cy="120.8" rx="0.9" ry="0.8" fill="#666" filter="url(#b05)"/><ellipse cx="334.0" cy="121.6" rx="0.9" ry="0.8" fill="#777" filter="url(#b05)"/><ellipse cx="329.0" cy="124.6" rx="0.9" ry="0.8" fill="#777" filter="url(#b05)"/><ellipse cx="365.0" cy="123.7" rx="0.9" ry="0.8" fill="#888" filter="url(#b05)"/><ellipse cx="339.0" cy="126.3" rx="0.9" ry="0.8" fill="#666" filter="url(#b05)"/><ellipse cx="355.0" cy="126.6" rx="0.9" ry="0.8" fill="#666" filter="url(#b05)"/><ellipse cx="360.0" cy="127.1" rx="0.9" ry="0.8" fill="#888" filter="url(#b05)"/><ellipse cx="329.0" cy="130.1" rx="0.9" ry="0.8" fill="#888" filter="url(#b05)"/><ellipse cx="365.0" cy="129.3" rx="0.9" ry="0.8" fill="#777" filter="url(#b05)"/><ellipse cx="369.0" cy="132.1" rx="0.9" ry="0.8" fill="#666" filter="url(#b05)"/><ellipse cx="322" cy="82" rx="1.1" ry="1.0" fill="#666" filter="url(#b05)"/><ellipse cx="326" cy="86" rx="1.1" ry="1.0" fill="#666" filter="url(#b05)"/><ellipse cx="330" cy="84" rx="1.1" ry="1.0" fill="#555" filter="url(#b05)"/><ellipse cx="334" cy="81" rx="1.1" ry="1.0" fill="#666" filter="url(#b05)"/><ellipse cx="365" cy="80" rx="1.1" ry="1.0" fill="#666" filter="url(#b05)"/><ellipse cx="369" cy="84" rx="1.1" ry="1.0" fill="#444" filter="url(#b05)"/><ellipse cx="373" cy="80" rx="1.1" ry="1.0" fill="#444" filter="url(#b05)"/><ellipse cx="376" cy="86" rx="1.1" ry="1.0" fill="#666" filter="url(#b05)"/><ellipse cx="352" cy="82" rx="1.1" ry="1.0" fill="#444" filter="url(#b05)"/><ellipse cx="357" cy="84" rx="1.1" ry="1.0" fill="#666" filter="url(#b05)"/><ellipse cx="340" cy="86" rx="1.1" ry="1.0" fill="#444" filter="url(#b05)"/><ellipse cx="344" cy="84" rx="1.1" ry="1.0" fill="#444" filter="url(#b05)"/><ellipse cx="365.6" cy="124.6" rx="10.6" ry="9.3" fill="#333" transform="rotate(20 365.6 124.6)" filter="url(#b05)"/><ellipse cx="365.6" cy="124.6" rx="8.3" ry="7.2" fill="#5a5a5a" transform="rotate(20 365.6 124.6)" filter="url(#b05)"/><ellipse cx="333.9" cy="141.5" rx="5.6" ry="9" fill="#555" filter="url(#b05)"/><ellipse cx="333.9" cy="141.5" rx="4" ry="7" fill="#777" filter="url(#b05)"/><ellipse cx="361.8" cy="142.5" rx="5.6" ry="9" fill="#555" filter="url(#b05)"/><ellipse cx="361.8" cy="142.5" rx="4" ry="7" fill="#777" filter="url(#b05)"/><path d="M327,162 C333,157 362,157 369,162 L372,184 C368,195 360,199 349,199 C338,199 330,195 325,185 Z" fill="#dcdcdc" filter="url(#b3)"/><path d="M327,162 C333,157 362,157 369,162 L372,184 C368,195 360,199 349,199 C338,199 330,195 325,185 Z" fill="#000" opacity="0.12" filter="url(#mot2)"/><path d="M327,200 L327.3,212 M327.5,231 L327.8,241 M369.8,199 L370,212 M370.2,228 L370.4,240" stroke="#2a2a2a" stroke-width="1.8" fill="none" filter="url(#b05)"/><path d="M327.3,212 L327.5,231 M327.8,241 L328.5,258 M370,212 L370.2,228 M370.4,240 L370.8,255" stroke="#cdcdcd" stroke-width="1.2" fill="none" filter="url(#b05)"/><path d="M348.5,197 C349.5,203 350.5,207 351,211" stroke="#1a1a1a" stroke-width="3.2" fill="none" filter="url(#b05)"/><ellipse cx="350.8" cy="215.5" rx="4.6" ry="3.8" fill="#0a0a0a" filter="url(#b05)"/><ellipse cx="348" cy="203" rx="2.4" ry="4" fill="#222" filter="url(#b05)"/><ellipse cx="349.6" cy="187" rx="5" ry="4.5" fill="#8a8a8a" filter="url(#b05)"/><ellipse cx="347.8" cy="194.7" rx="2.8" ry="2.8" fill="#0a0a0a" filter="url(#b05)"/><ellipse cx="349.6" cy="200" rx="2.2" ry="2.5" fill="#111" filter="url(#b05)"/><ellipse cx="348.4" cy="158.3" rx="1.5" ry="1.5" fill="#222" filter="url(#b05)"/><ellipse cx="336.5" cy="172" rx="2.2" ry="3.2" fill="#111" filter="url(#b05)"/><ellipse cx="340" cy="175.6" rx="2" ry="2" fill="#1a1a1a" filter="url(#b05)"/><ellipse cx="332.3" cy="178" rx="1.5" ry="1.5" fill="#222" filter="url(#b05)"/><ellipse cx="334.7" cy="182.2" rx="2" ry="2" fill="#1a1a1a" filter="url(#b05)"/><ellipse cx="338.3" cy="187" rx="2" ry="2" fill="#222" filter="url(#b05)"/><ellipse cx="336.5" cy="191.7" rx="1.5" ry="1.5" fill="#333" filter="url(#b05)"/><ellipse cx="327.5" cy="196.5" rx="2.3" ry="3.2" fill="#0c0c0c" filter="url(#b05)"/><ellipse cx="359.1" cy="189" rx="1.6" ry="4.2" fill="#1a1a1a" filter="url(#b05)"/><ellipse cx="357.3" cy="169" rx="2.2" ry="2.2" fill="#333" filter="url(#b05)"/><ellipse cx="355" cy="175" rx="2" ry="2" fill="#333" filter="url(#b05)"/><ellipse cx="361" cy="172" rx="1.5" ry="1.5" fill="#555" filter="url(#b05)"/><ellipse cx="368" cy="178.6" rx="1.5" ry="1.5" fill="#333" filter="url(#b05)"/><ellipse cx="369.8" cy="203" rx="1.5" ry="1.8" fill="#222" filter="url(#b05)"/><ellipse cx="344" cy="180" rx="2.5" ry="2.5" fill="#777" filter="url(#b05)"/><ellipse cx="328" cy="251" rx="1.2" ry="1.2" fill="#333" filter="url(#b05)"/><ellipse cx="347" cy="150" rx="1.5" ry="1.5" fill="#444" filter="url(#b05)"/><ellipse cx="333" cy="159" rx="1" ry="1" fill="#555" filter="url(#b05)"/><path d="M333.7,40 C333.7,32 339,28.7 346.5,28.7 C354,28.7 359.3,32 359.3,40 C359.3,47 355,53.6 346.5,53.6 C338,53.6 333.7,47 333.7,40 Z" fill="#000" filter="url(#b05)"/><path d="M309,195 h6.4 v-2.3 l4.6,4.3 l-4.6,4.3 v-2.3 h-6.4z" fill="#3a98dc" stroke="#1d4a78" stroke-width="0.9" stroke-linejoin="round"/><text x="6.2" y="15.6" font-family="Liberation Sans" font-size="12.4" font-weight="bold" fill="#000" text-anchor="start" stroke="#000" stroke-width="0.3" style="">A</text><text x="93.5" y="15.3" font-family="Liberation Sans" font-size="8.6" font-weight="normal" fill="#222" text-anchor="start" textLength="46.5" lengthAdjust="spacingAndGlyphs"  style="">At Diagnosis</text><text x="286.8" y="15" font-family="Liberation Sans" font-size="8.6" font-weight="normal" fill="#222" text-anchor="start" textLength="41" lengthAdjust="spacingAndGlyphs"  style="">Post ASCT</text><text x="67.4" y="283" font-family="Liberation Sans" font-size="7.9" font-weight="normal" fill="#222" text-anchor="middle"  style="">PET</text><text x="159" y="283" font-family="Liberation Sans" font-size="8.2" font-weight="normal" fill="#222" text-anchor="middle"  style="">DWI</text><text x="254.8" y="283" font-family="Liberation Sans" font-size="7.9" font-weight="normal" fill="#222" text-anchor="middle"  style="">PET</text><text x="347" y="283" font-family="Liberation Sans" font-size="8.2" font-weight="normal" fill="#222" text-anchor="middle"  style="">DWI</text>
<text x="6.6" y="309.6" font-family="Liberation Sans" font-size="10.8" font-weight="bold" fill="#000" text-anchor="start" stroke="#000" stroke-width="0.3" style="">B</text>
<path d="M42.3,315.3V482.2M41.8,481.7H252.3" stroke="#333" stroke-width="1.2" fill="none"/>
<path d="M39.099999999999994,322.40H42.3" stroke="#333" stroke-width="1"/>
<text x="36.099999999999994" y="325.00" font-family="Liberation Sans" font-size="7.4" font-weight="normal" fill="#222" text-anchor="end"  style="">1.00</text>
<path d="M39.099999999999994,360.40H42.3" stroke="#333" stroke-width="1"/>
<text x="36.099999999999994" y="363.00" font-family="Liberation Sans" font-size="7.4" font-weight="normal" fill="#222" text-anchor="end"  style="">0.75</text>
<path d="M39.099999999999994,398.40H42.3" stroke="#333" stroke-width="1"/>
<text x="36.099999999999994" y="401.00" font-family="Liberation Sans" font-size="7.4" font-weight="normal" fill="#222" text-anchor="end"  style="">0.50</text>
<path d="M39.099999999999994,436.40H42.3" stroke="#333" stroke-width="1"/>
<text x="36.099999999999994" y="439.00" font-family="Liberation Sans" font-size="7.4" font-weight="normal" fill="#222" text-anchor="end"  style="">0.25</text>
<path d="M39.099999999999994,474.40H42.3" stroke="#333" stroke-width="1"/>
<text x="36.099999999999994" y="477.00" font-family="Liberation Sans" font-size="7.4" font-weight="normal" fill="#222" text-anchor="end"  style="">0.00</text>
<path d="M51.60,481.7V485" stroke="#333" stroke-width="1"/>
<text x="51.60" y="495.2" font-family="Liberation Sans" font-size="7.6" font-weight="normal" fill="#1a1a1a" text-anchor="middle"  style="">0</text>
<path d="M66.93,481.7V485" stroke="#333" stroke-width="1"/>
<text x="66.93" y="495.2" font-family="Liberation Sans" font-size="7.6" font-weight="normal" fill="#1a1a1a" text-anchor="middle"  style="">1</text>
<path d="M82.26,481.7V485" stroke="#333" stroke-width="1"/>
<text x="82.26" y="495.2" font-family="Liberation Sans" font-size="7.6" font-weight="normal" fill="#1a1a1a" text-anchor="middle"  style="">2</text>
<path d="M97.59,481.7V485" stroke="#333" stroke-width="1"/>
<text x="97.59" y="495.2" font-family="Liberation Sans" font-size="7.6" font-weight="normal" fill="#1a1a1a" text-anchor="middle"  style="">3</text>
<path d="M112.92,481.7V485" stroke="#333" stroke-width="1"/>
<text x="112.92" y="495.2" font-family="Liberation Sans" font-size="7.6" font-weight="normal" fill="#1a1a1a" text-anchor="middle"  style="">4</text>
<path d="M128.25,481.7V485" stroke="#333" stroke-width="1"/>
<text x="128.25" y="495.2" font-family="Liberation Sans" font-size="7.6" font-weight="normal" fill="#1a1a1a" text-anchor="middle"  style="">5</text>
<path d="M143.58,481.7V485" stroke="#333" stroke-width="1"/>
<text x="143.58" y="495.2" font-family="Liberation Sans" font-size="7.6" font-weight="normal" fill="#1a1a1a" text-anchor="middle"  style="">6</text>
<path d="M158.91,481.7V485" stroke="#333" stroke-width="1"/>
<text x="158.91" y="495.2" font-family="Liberation Sans" font-size="7.6" font-weight="normal" fill="#1a1a1a" text-anchor="middle"  style="">7</text>
<path d="M174.24,481.7V485" stroke="#333" stroke-width="1"/>
<text x="174.24" y="495.2" font-family="Liberation Sans" font-size="7.6" font-weight="normal" fill="#1a1a1a" text-anchor="middle"  style="">8</text>
<path d="M189.57,481.7V485" stroke="#333" stroke-width="1"/>
<text x="189.57" y="495.2" font-family="Liberation Sans" font-size="7.6" font-weight="normal" fill="#1a1a1a" text-anchor="middle"  style="">9</text>
<path d="M204.90,481.7V485" stroke="#333" stroke-width="1"/>
<text x="204.90" y="495.2" font-family="Liberation Sans" font-size="7.6" font-weight="normal" fill="#1a1a1a" text-anchor="middle"  style="">10</text>
<path d="M220.23,481.7V485" stroke="#333" stroke-width="1"/>
<text x="220.23" y="495.2" font-family="Liberation Sans" font-size="7.6" font-weight="normal" fill="#1a1a1a" text-anchor="middle"  style="">11</text>
<path d="M235.56,481.7V485" stroke="#333" stroke-width="1"/>
<text x="235.56" y="495.2" font-family="Liberation Sans" font-size="7.6" font-weight="normal" fill="#1a1a1a" text-anchor="middle"  style="">12</text>
<text x="147.60" y="507.6" font-family="Liberation Sans" font-size="9" font-weight="normal" fill="#000" text-anchor="middle" textLength="37.5" lengthAdjust="spacingAndGlyphs" stroke="#000" stroke-width="0.3" style="">Time (years)</text>
<g transform="translate(16.4,398.5) rotate(-90)"><text x="0" y="0" font-family="Liberation Sans" font-size="8.2" font-weight="normal" fill="#000" text-anchor="middle" textLength="71" lengthAdjust="spacingAndGlyphs" stroke="#000" stroke-width="0.25" style="">Progression-free survival</text></g>
<path d="M51.8,398.5H146.5" stroke="#333" stroke-width="1" stroke-dasharray="1.6 2.6" fill="none"/>
<path d="M86.9,399.5V474" stroke="#333" stroke-width="1" stroke-dasharray="1.2 1.6" fill="none"/>
<path d="M96.8,399.5V474" stroke="#333" stroke-width="1" stroke-dasharray="1.2 1.6" fill="none"/>
<path d="M146.3,399.5V474" stroke="#333" stroke-width="1" stroke-dasharray="1.2 1.6" fill="none"/>
<path d="M51.60,322.50H58.00H59.53V324.33H61.07V326.17H62.60V328.00H63.40V329.90H64.20V331.80H65.73V333.60H67.27V335.40H68.80V337.20H70.33V339.00H71.87V340.80H73.40V342.60H75.70V344.13H78.00V345.67H80.30V347.20H81.84V348.74H83.38V350.28H84.92V351.82H86.46V353.36H88.00V354.90H90.16V356.46H92.32V358.02H94.48V359.58H96.64V361.14H98.80V362.70H100.72V364.23H102.65V365.75H104.58V367.27H106.50V368.80H108.83V370.35H111.15V371.90H113.47V373.45H115.80V375.00H117.20V376.67H118.60V378.33H120.00V380.00H122.70V381.45H125.40V382.90H128.10V384.35H130.80V385.80H133.47V387.60H136.13V389.40H138.80V391.20H140.42V392.66H142.04V394.12H143.66V395.58H145.28V397.04H146.90V398.50H149.60V400.10H152.30V401.70H155.00V403.30H161.75V405.05H168.50V406.80H171.15V408.15H173.80V409.50H187.30V411.40H200.80V413.20H206.20V414.90H227.90V426.60H239.40" stroke="#3a9fd6" stroke-width="1.45" fill="none"/>
<path d="M84.00,350.60v3.8M112.00,370.60v3.8M125.00,380.10v3.8M150.00,398.10v3.8M160.00,402.60v3.8M170.00,405.10v3.8M176.00,408.10v3.8M187.00,409.50v3.8M200.00,411.30v3.8M210.60,413.00v3.8M218.60,413.00v3.8M222.00,413.00v3.8M224.40,413.00v3.8M237.00,424.70v3.8M238.80,424.70v3.8" stroke="#3a9fd6" stroke-width="0.9" fill="none"/>
<path d="M51.60,322.50H57.60V327.60H62.20V336.50H63.47V338.00H64.73V339.50H66.00V341.00H66.80V342.60H67.60V344.20H68.40V345.80H69.20V347.40H70.00V349.00H70.67V350.50H71.35V352.00H72.03V353.50H72.70V355.00H72.96V356.53H73.21V358.07H73.47V359.60H73.72V361.13H73.98V362.67H74.23V364.20H74.49V365.73H74.74V367.27H75.00V368.80H77.70V370.75H80.40V372.70H81.17V374.47H81.93V376.23H82.70V378.00H83.85V379.55H85.00V381.10H86.15V382.65H87.30V384.20H88.45V385.75H89.60V387.30H90.75V389.02H91.90V390.75H93.05V392.48H94.20V394.20H94.97V395.70H95.73V397.20H96.50V398.70H97.45V400.42H98.40V402.13H99.35V403.85H100.30V405.57H101.25V407.28H102.20V409.00H103.27V410.67H104.33V412.33H105.40V414.00H120.70V418.80H133.50V425.60H145.60V430.20H149.60V432.90H160.40V437.00H164.40V441.00H179.20V445.00H194.50V450.20H234.60" stroke="#e89b30" stroke-width="1.45" fill="none"/>
<path d="M74.00,358.10v3.8M110.00,414.10v3.8M128.00,416.90v3.8M140.00,423.70v3.8M156.00,431.00v3.8M182.30,443.10v3.8M200.20,448.30v3.8M210.60,448.30v3.8M211.70,448.30v3.8M234.20,448.30v3.8" stroke="#e89b30" stroke-width="0.9" fill="none"/>
<path d="M52.20,322.50H52.90V333.26H54.20V344.11H62.50V354.97H63.80V365.83H65.20V376.69H82.70V387.54H85.00V398.40H87.70V409.26H89.30V430.97H91.70V441.83H94.10V452.69H96.50V463.54H113.40V474.40" stroke="#a8284a" stroke-width="1.45" fill="none"/>
<path d="M148.70,324.50h10.4M153.90,322.90v3.2" stroke="#3a9fd6" stroke-width="1.1"/>
<text x="162.00" y="327.30" font-family="Liberation Sans" font-size="7.7" font-weight="normal" fill="#111" text-anchor="start"  style="">no FL</text>
<path d="M148.70,335.15h10.4M153.90,333.55v3.2" stroke="#e89b30" stroke-width="1.1"/>
<text x="162.00" y="337.95" font-family="Liberation Sans" font-size="7.7" font-weight="normal" fill="#111" text-anchor="start"  style="">DWI positive only</text>
<path d="M148.70,345.80h10.4" stroke="#a8284a" stroke-width="1.5"/>
<text x="162.00" y="348.60" font-family="Liberation Sans" font-size="7.7" font-weight="normal" fill="#111" text-anchor="start"  style="">PET positive</text>
<text x="52.3" y="462.1" font-family="Liberation Sans" font-size="8.2" font-weight="normal" fill="#222" text-anchor="start" textLength="32" lengthAdjust="spacingAndGlyphs"  style=""><tspan font-style="italic">P</tspan> &lt; .0001</text>
<text x="42.3" y="520.2" font-family="Liberation Sans" font-size="7.6" font-weight="normal" fill="#222" text-anchor="start"  style="">Number at risk</text>
<path d="M42.3,525V556.2M41.8,555.7H252.3" stroke="#333" stroke-width="1.2" fill="none"/>
<path d="M26.799999999999997,531.50h9" stroke="#3a9fd6" stroke-width="1.3"/>
<path d="M39.099999999999994,531.50H42.3" stroke="#333" stroke-width="1"/>
<text x="51.60" y="533.80" font-family="Liberation Sans" font-size="6.4" font-weight="normal" fill="#222" text-anchor="middle"  style="">164</text>
<text x="66.93" y="533.80" font-family="Liberation Sans" font-size="6.4" font-weight="normal" fill="#222" text-anchor="middle"  style="">150</text>
<text x="82.26" y="533.80" font-family="Liberation Sans" font-size="6.4" font-weight="normal" fill="#222" text-anchor="middle"  style="">132</text>
<text x="97.59" y="533.80" font-family="Liberation Sans" font-size="6.4" font-weight="normal" fill="#222" text-anchor="middle"  style="">116</text>
<text x="112.92" y="533.80" font-family="Liberation Sans" font-size="6.4" font-weight="normal" fill="#222" text-anchor="middle"  style="">98</text>
<text x="128.25" y="533.80" font-family="Liberation Sans" font-size="6.4" font-weight="normal" fill="#222" text-anchor="middle"  style="">82</text>
<text x="143.58" y="533.80" font-family="Liberation Sans" font-size="6.4" font-weight="normal" fill="#222" text-anchor="middle"  style="">69</text>
<text x="158.91" y="533.80" font-family="Liberation Sans" font-size="6.4" font-weight="normal" fill="#222" text-anchor="middle"  style="">57</text>
<text x="174.24" y="533.80" font-family="Liberation Sans" font-size="6.4" font-weight="normal" fill="#222" text-anchor="middle"  style="">47</text>
<text x="189.57" y="533.80" font-family="Liberation Sans" font-size="6.4" font-weight="normal" fill="#222" text-anchor="middle"  style="">41</text>
<text x="204.90" y="533.80" font-family="Liberation Sans" font-size="6.4" font-weight="normal" fill="#222" text-anchor="middle"  style="">31</text>
<text x="220.23" y="533.80" font-family="Liberation Sans" font-size="6.4" font-weight="normal" fill="#222" text-anchor="middle"  style="">13</text>
<text x="235.56" y="533.80" font-family="Liberation Sans" font-size="6.4" font-weight="normal" fill="#222" text-anchor="middle"  style="">3</text>
<path d="M26.799999999999997,540.70h9" stroke="#e89b30" stroke-width="1.3"/>
<path d="M39.099999999999994,540.70H42.3" stroke="#333" stroke-width="1"/>
<text x="51.60" y="543.00" font-family="Liberation Sans" font-size="6.4" font-weight="normal" fill="#222" text-anchor="middle"  style="">65</text>
<text x="66.93" y="543.00" font-family="Liberation Sans" font-size="6.4" font-weight="normal" fill="#222" text-anchor="middle"  style="">58</text>
<text x="82.26" y="543.00" font-family="Liberation Sans" font-size="6.4" font-weight="normal" fill="#222" text-anchor="middle"  style="">40</text>
<text x="97.59" y="543.00" font-family="Liberation Sans" font-size="6.4" font-weight="normal" fill="#222" text-anchor="middle"  style="">30</text>
<text x="112.92" y="543.00" font-family="Liberation Sans" font-size="6.4" font-weight="normal" fill="#222" text-anchor="middle"  style="">22</text>
<text x="128.25" y="543.00" font-family="Liberation Sans" font-size="6.4" font-weight="normal" fill="#222" text-anchor="middle"  style="">17</text>
<text x="143.58" y="543.00" font-family="Liberation Sans" font-size="6.4" font-weight="normal" fill="#222" text-anchor="middle"  style="">14</text>
<text x="158.91" y="543.00" font-family="Liberation Sans" font-size="6.4" font-weight="normal" fill="#222" text-anchor="middle"  style="">10</text>
<text x="174.24" y="543.00" font-family="Liberation Sans" font-size="6.4" font-weight="normal" fill="#222" text-anchor="middle"  style="">8</text>
<text x="189.57" y="543.00" font-family="Liberation Sans" font-size="6.4" font-weight="normal" fill="#222" text-anchor="middle"  style="">6</text>
<text x="204.90" y="543.00" font-family="Liberation Sans" font-size="6.4" font-weight="normal" fill="#222" text-anchor="middle"  style="">3</text>
<text x="220.23" y="543.00" font-family="Liberation Sans" font-size="6.4" font-weight="normal" fill="#222" text-anchor="middle"  style="">1</text>
<text x="235.56" y="543.00" font-family="Liberation Sans" font-size="6.4" font-weight="normal" fill="#222" text-anchor="middle"  style="">0</text>
<path d="M26.799999999999997,549.90h9" stroke="#a8284a" stroke-width="1.3"/>
<path d="M39.099999999999994,549.90H42.3" stroke="#333" stroke-width="1"/>
<text x="51.60" y="552.20" font-family="Liberation Sans" font-size="6.4" font-weight="normal" fill="#222" text-anchor="middle"  style="">14</text>
<text x="66.93" y="552.20" font-family="Liberation Sans" font-size="6.4" font-weight="normal" fill="#222" text-anchor="middle"  style="">9</text>
<text x="82.26" y="552.20" font-family="Liberation Sans" font-size="6.4" font-weight="normal" fill="#222" text-anchor="middle"  style="">9</text>
<text x="97.59" y="552.20" font-family="Liberation Sans" font-size="6.4" font-weight="normal" fill="#222" text-anchor="middle"  style="">1</text>
<text x="112.92" y="552.20" font-family="Liberation Sans" font-size="6.4" font-weight="normal" fill="#222" text-anchor="middle"  style="">1</text>
<text x="128.25" y="552.20" font-family="Liberation Sans" font-size="6.4" font-weight="normal" fill="#222" text-anchor="middle"  style="">0</text>
<text x="143.58" y="552.20" font-family="Liberation Sans" font-size="6.4" font-weight="normal" fill="#222" text-anchor="middle"  style="">0</text>
<text x="158.91" y="552.20" font-family="Liberation Sans" font-size="6.4" font-weight="normal" fill="#222" text-anchor="middle"  style="">0</text>
<text x="174.24" y="552.20" font-family="Liberation Sans" font-size="6.4" font-weight="normal" fill="#222" text-anchor="middle"  style="">0</text>
<text x="189.57" y="552.20" font-family="Liberation Sans" font-size="6.4" font-weight="normal" fill="#222" text-anchor="middle"  style="">0</text>
<text x="204.90" y="552.20" font-family="Liberation Sans" font-size="6.4" font-weight="normal" fill="#222" text-anchor="middle"  style="">0</text>
<text x="220.23" y="552.20" font-family="Liberation Sans" font-size="6.4" font-weight="normal" fill="#222" text-anchor="middle"  style="">0</text>
<text x="235.56" y="552.20" font-family="Liberation Sans" font-size="6.4" font-weight="normal" fill="#222" text-anchor="middle"  style="">0</text>
<path d="M51.60,555.7V559" stroke="#333" stroke-width="1"/>
<text x="51.60" y="569.3" font-family="Liberation Sans" font-size="8.2" font-weight="normal" fill="#111" text-anchor="middle"  style="">0</text>
<path d="M66.93,555.7V559" stroke="#333" stroke-width="1"/>
<text x="66.93" y="569.3" font-family="Liberation Sans" font-size="8.2" font-weight="normal" fill="#111" text-anchor="middle"  style="">1</text>
<path d="M82.26,555.7V559" stroke="#333" stroke-width="1"/>
<text x="82.26" y="569.3" font-family="Liberation Sans" font-size="8.2" font-weight="normal" fill="#111" text-anchor="middle"  style="">2</text>
<path d="M97.59,555.7V559" stroke="#333" stroke-width="1"/>
<text x="97.59" y="569.3" font-family="Liberation Sans" font-size="8.2" font-weight="normal" fill="#111" text-anchor="middle"  style="">3</text>
<path d="M112.92,555.7V559" stroke="#333" stroke-width="1"/>
<text x="112.92" y="569.3" font-family="Liberation Sans" font-size="8.2" font-weight="normal" fill="#111" text-anchor="middle"  style="">4</text>
<path d="M128.25,555.7V559" stroke="#333" stroke-width="1"/>
<text x="128.25" y="569.3" font-family="Liberation Sans" font-size="8.2" font-weight="normal" fill="#111" text-anchor="middle"  style="">5</text>
<path d="M143.58,555.7V559" stroke="#333" stroke-width="1"/>
<text x="143.58" y="569.3" font-family="Liberation Sans" font-size="8.2" font-weight="normal" fill="#111" text-anchor="middle"  style="">6</text>
<path d="M158.91,555.7V559" stroke="#333" stroke-width="1"/>
<text x="158.91" y="569.3" font-family="Liberation Sans" font-size="8.2" font-weight="normal" fill="#111" text-anchor="middle"  style="">7</text>
<path d="M174.24,555.7V559" stroke="#333" stroke-width="1"/>
<text x="174.24" y="569.3" font-family="Liberation Sans" font-size="8.2" font-weight="normal" fill="#111" text-anchor="middle"  style="">8</text>
<path d="M189.57,555.7V559" stroke="#333" stroke-width="1"/>
<text x="189.57" y="569.3" font-family="Liberation Sans" font-size="8.2" font-weight="normal" fill="#111" text-anchor="middle"  style="">9</text>
<path d="M204.90,555.7V559" stroke="#333" stroke-width="1"/>
<text x="204.90" y="569.3" font-family="Liberation Sans" font-size="8.2" font-weight="normal" fill="#111" text-anchor="middle"  style="">10</text>
<path d="M220.23,555.7V559" stroke="#333" stroke-width="1"/>
<text x="220.23" y="569.3" font-family="Liberation Sans" font-size="8.2" font-weight="normal" fill="#111" text-anchor="middle"  style="">11</text>
<path d="M235.56,555.7V559" stroke="#333" stroke-width="1"/>
<text x="235.56" y="569.3" font-family="Liberation Sans" font-size="8.2" font-weight="normal" fill="#111" text-anchor="middle"  style="">12</text>
<text x="147.60" y="581.8" font-family="Liberation Sans" font-size="9" font-weight="normal" fill="#000" text-anchor="middle" textLength="37.5" lengthAdjust="spacingAndGlyphs" stroke="#000" stroke-width="0.3" style="">Time (years)</text>
<text x="268.2" y="309.6" font-family="Liberation Sans" font-size="10.8" font-weight="bold" fill="#000" text-anchor="start" stroke="#000" stroke-width="0.3" style="">C</text>
<path d="M303.3,315.3V482.2M302.8,481.7H513.3" stroke="#333" stroke-width="1.2" fill="none"/>
<path d="M300.1,322.40H303.3" stroke="#333" stroke-width="1"/>
<text x="297.1" y="325.00" font-family="Liberation Sans" font-size="7.4" font-weight="normal" fill="#222" text-anchor="end"  style="">1.00</text>
<path d="M300.1,360.40H303.3" stroke="#333" stroke-width="1"/>
<text x="297.1" y="363.00" font-family="Liberation Sans" font-size="7.4" font-weight="normal" fill="#222" text-anchor="end"  style="">0.75</text>
<path d="M300.1,398.40H303.3" stroke="#333" stroke-width="1"/>
<text x="297.1" y="401.00" font-family="Liberation Sans" font-size="7.4" font-weight="normal" fill="#222" text-anchor="end"  style="">0.50</text>
<path d="M300.1,436.40H303.3" stroke="#333" stroke-width="1"/>
<text x="297.1" y="439.00" font-family="Liberation Sans" font-size="7.4" font-weight="normal" fill="#222" text-anchor="end"  style="">0.25</text>
<path d="M300.1,474.40H303.3" stroke="#333" stroke-width="1"/>
<text x="297.1" y="477.00" font-family="Liberation Sans" font-size="7.4" font-weight="normal" fill="#222" text-anchor="end"  style="">0.00</text>
<path d="M312.50,481.7V485" stroke="#333" stroke-width="1"/>
<text x="312.50" y="495.2" font-family="Liberation Sans" font-size="7.6" font-weight="normal" fill="#1a1a1a" text-anchor="middle"  style="">0</text>
<path d="M327.80,481.7V485" stroke="#333" stroke-width="1"/>
<text x="327.80" y="495.2" font-family="Liberation Sans" font-size="7.6" font-weight="normal" fill="#1a1a1a" text-anchor="middle"  style="">1</text>
<path d="M343.10,481.7V485" stroke="#333" stroke-width="1"/>
<text x="343.10" y="495.2" font-family="Liberation Sans" font-size="7.6" font-weight="normal" fill="#1a1a1a" text-anchor="middle"  style="">2</text>
<path d="M358.40,481.7V485" stroke="#333" stroke-width="1"/>
<text x="358.40" y="495.2" font-family="Liberation Sans" font-size="7.6" font-weight="normal" fill="#1a1a1a" text-anchor="middle"  style="">3</text>
<path d="M373.70,481.7V485" stroke="#333" stroke-width="1"/>
<text x="373.70" y="495.2" font-family="Liberation Sans" font-size="7.6" font-weight="normal" fill="#1a1a1a" text-anchor="middle"  style="">4</text>
<path d="M389.00,481.7V485" stroke="#333" stroke-width="1"/>
<text x="389.00" y="495.2" font-family="Liberation Sans" font-size="7.6" font-weight="normal" fill="#1a1a1a" text-anchor="middle"  style="">5</text>
<path d="M404.30,481.7V485" stroke="#333" stroke-width="1"/>
<text x="404.30" y="495.2" font-family="Liberation Sans" font-size="7.6" font-weight="normal" fill="#1a1a1a" text-anchor="middle"  style="">6</text>
<path d="M419.60,481.7V485" stroke="#333" stroke-width="1"/>
<text x="419.60" y="495.2" font-family="Liberation Sans" font-size="7.6" font-weight="normal" fill="#1a1a1a" text-anchor="middle"  style="">7</text>
<path d="M434.90,481.7V485" stroke="#333" stroke-width="1"/>
<text x="434.90" y="495.2" font-family="Liberation Sans" font-size="7.6" font-weight="normal" fill="#1a1a1a" text-anchor="middle"  style="">8</text>
<path d="M450.20,481.7V485" stroke="#333" stroke-width="1"/>
<text x="450.20" y="495.2" font-family="Liberation Sans" font-size="7.6" font-weight="normal" fill="#1a1a1a" text-anchor="middle"  style="">9</text>
<path d="M465.50,481.7V485" stroke="#333" stroke-width="1"/>
<text x="465.50" y="495.2" font-family="Liberation Sans" font-size="7.6" font-weight="normal" fill="#1a1a1a" text-anchor="middle"  style="">10</text>
<path d="M480.80,481.7V485" stroke="#333" stroke-width="1"/>
<text x="480.80" y="495.2" font-family="Liberation Sans" font-size="7.6" font-weight="normal" fill="#1a1a1a" text-anchor="middle"  style="">11</text>
<path d="M496.10,481.7V485" stroke="#333" stroke-width="1"/>
<text x="496.10" y="495.2" font-family="Liberation Sans" font-size="7.6" font-weight="normal" fill="#1a1a1a" text-anchor="middle"  style="">12</text>
<text x="408.20" y="507.6" font-family="Liberation Sans" font-size="9" font-weight="normal" fill="#000" text-anchor="middle" textLength="37.5" lengthAdjust="spacingAndGlyphs" stroke="#000" stroke-width="0.3" style="">Time (years)</text>
<g transform="translate(276.5,398.2) rotate(-90)"><text x="0" y="0" font-family="Liberation Sans" font-size="8.2" font-weight="normal" fill="#000" text-anchor="middle" textLength="43.5" lengthAdjust="spacingAndGlyphs" stroke="#000" stroke-width="0.25" style="">Overall survival</text></g>
<path d="M312.7,398.3H413.5" stroke="#333" stroke-width="1" stroke-dasharray="1.6 2.6" fill="none"/>
<path d="M383.3,399.5V474" stroke="#333" stroke-width="1" stroke-dasharray="1.2 1.6" fill="none"/>
<path d="M413.5,399.5V474" stroke="#333" stroke-width="1" stroke-dasharray="1.2 1.6" fill="none"/>
<path d="M312.50,322.50H326.20H330.00V324.50H333.80V326.50H338.65V327.95H343.50V329.40H345.40V331.12H347.30V332.84H349.20V334.56H351.10V336.28H353.00V338.00H357.85V340.00H362.70V342.00H365.90V343.57H369.10V345.13H372.30V346.70H374.73V348.15H377.15V349.60H379.57V351.05H382.00V352.50H384.38V353.95H386.75V355.40H389.12V356.85H391.50V358.30H394.67V359.87H397.83V361.43H401.00V363.00H404.25V364.65H407.50V366.30H410.75V367.95H414.00V369.60H417.17V371.20H420.33V372.80H423.50V374.40H429.40V375.60H435.30V376.80H438.85V378.80H442.40V380.80H448.35V382.35H454.30V383.90H458.23V385.47H462.17V387.03H466.10V388.60H475.60V391.00H481.60V392.20H483.90V395.70H501.70" stroke="#3a9fd6" stroke-width="1.45" fill="none"/>
<path d="M340.00,326.10v3.8M360.00,339.10v3.8M380.00,349.10v3.8M395.00,358.10v3.8M420.00,370.10v3.8M430.00,374.10v3.8M446.00,379.60v3.8M460.00,384.10v3.8M470.00,387.70v3.8M478.00,389.60v3.8M485.00,393.80v3.8M490.00,393.80v3.8M494.00,393.80v3.8M498.00,393.80v3.8M501.00,393.80v3.8" stroke="#3a9fd6" stroke-width="0.9" fill="none"/>
<path d="M312.50,322.50H326.20H326.90V324.00H327.60V325.50H328.30V327.00H329.00V328.50H330.60V330.10H332.20V331.70H333.80V333.30H337.20V334.65H340.60V336.00H341.23V337.47H341.87V338.93H342.50V340.40H343.13V341.87H343.77V343.33H344.40V344.80H348.70V346.75H353.00V348.70H356.90V350.60H360.80V352.50H362.73V353.95H364.65V355.40H366.57V356.85H368.50V358.30H378.00V359.20H378.80V360.76H379.60V362.32H380.40V363.88H381.20V365.44H382.00V367.00H382.95V368.43H383.90V369.85H384.85V371.27H385.80V372.70H394.40V374.60H398.60V388.60H402.10V391.00H404.78V392.48H407.45V393.95H410.12V395.42H412.80V396.90H416.30V404.00H425.80V407.60H444.80V412.30H451.90V415.90H457.80V420.60H472.50V421.80H473.30V428.90H485.10V441.50H505.30" stroke="#e89b30" stroke-width="1.45" fill="none"/>
<path d="M350.00,345.10v3.8M388.00,371.60v3.8M430.00,405.70v3.8M438.00,405.70v3.8M460.00,418.70v3.8M470.00,419.90v3.8M476.00,427.00v3.8M485.10,439.60v3.8M493.00,439.60v3.8M497.00,439.60v3.8" stroke="#e89b30" stroke-width="0.9" fill="none"/>
<path d="M312.50,322.50H318.80V333.26H330.40V344.11H339.20V354.97H350.80V365.83H361.70V376.69H366.90V387.54H373.30V398.40H393.50V409.26H406.90V420.11H416.30V430.97H456.70V441.83H505.30" stroke="#a8284a" stroke-width="1.45" fill="none"/>
<path d="M490.00,439.60v3.8M496.00,439.60v3.8M504.00,439.60v3.8" stroke="#a8284a" stroke-width="0.9" fill="none"/>
<path d="M428.00,324.50h10.4M433.20,322.90v3.2" stroke="#3a9fd6" stroke-width="1.1"/>
<text x="441.30" y="327.30" font-family="Liberation Sans" font-size="7.7" font-weight="normal" fill="#111" text-anchor="start"  style="">no FL</text>
<path d="M428.00,335.15h10.4M433.20,333.55v3.2" stroke="#e89b30" stroke-width="1.1"/>
<text x="441.30" y="337.95" font-family="Liberation Sans" font-size="7.7" font-weight="normal" fill="#111" text-anchor="start"  style="">DWI positive only</text>
<path d="M428.00,345.80h10.4M433.20,344.20v3.2" stroke="#a8284a" stroke-width="1.1"/>
<text x="441.30" y="348.60" font-family="Liberation Sans" font-size="7.7" font-weight="normal" fill="#111" text-anchor="start"  style="">PET positive</text>
<text x="329.5" y="415" font-family="Liberation Sans" font-size="8.2" font-weight="normal" fill="#222" text-anchor="start" textLength="40" lengthAdjust="spacingAndGlyphs"  style=""><tspan font-style="italic">P</tspan> = .00046</text>
<text x="303.3" y="520.2" font-family="Liberation Sans" font-size="7.6" font-weight="normal" fill="#222" text-anchor="start"  style="">Number at risk</text>
<path d="M303.3,525V556.2M302.8,555.7H513.3" stroke="#333" stroke-width="1.2" fill="none"/>
<path d="M287.8,531.50h9" stroke="#3a9fd6" stroke-width="1.3"/>
<path d="M300.1,531.50H303.3" stroke="#333" stroke-width="1"/>
<text x="312.50" y="533.80" font-family="Liberation Sans" font-size="6.4" font-weight="normal" fill="#222" text-anchor="middle"  style="">164</text>
<text x="327.80" y="533.80" font-family="Liberation Sans" font-size="6.4" font-weight="normal" fill="#222" text-anchor="middle"  style="">163</text>
<text x="343.10" y="533.80" font-family="Liberation Sans" font-size="6.4" font-weight="normal" fill="#222" text-anchor="middle"  style="">155</text>
<text x="358.40" y="533.80" font-family="Liberation Sans" font-size="6.4" font-weight="normal" fill="#222" text-anchor="middle"  style="">143</text>
<text x="373.70" y="533.80" font-family="Liberation Sans" font-size="6.4" font-weight="normal" fill="#222" text-anchor="middle"  style="">131</text>
<text x="389.00" y="533.80" font-family="Liberation Sans" font-size="6.4" font-weight="normal" fill="#222" text-anchor="middle"  style="">117</text>
<text x="404.30" y="533.80" font-family="Liberation Sans" font-size="6.4" font-weight="normal" fill="#222" text-anchor="middle"  style="">108</text>
<text x="419.60" y="533.80" font-family="Liberation Sans" font-size="6.4" font-weight="normal" fill="#222" text-anchor="middle"  style="">96</text>
<text x="434.90" y="533.80" font-family="Liberation Sans" font-size="6.4" font-weight="normal" fill="#222" text-anchor="middle"  style="">85</text>
<text x="450.20" y="533.80" font-family="Liberation Sans" font-size="6.4" font-weight="normal" fill="#222" text-anchor="middle"  style="">73</text>
<text x="465.50" y="533.80" font-family="Liberation Sans" font-size="6.4" font-weight="normal" fill="#222" text-anchor="middle"  style="">47</text>
<text x="480.80" y="533.80" font-family="Liberation Sans" font-size="6.4" font-weight="normal" fill="#222" text-anchor="middle"  style="">22</text>
<text x="496.10" y="533.80" font-family="Liberation Sans" font-size="6.4" font-weight="normal" fill="#222" text-anchor="middle"  style="">7</text>
<path d="M287.8,540.70h9" stroke="#e89b30" stroke-width="1.3"/>
<path d="M300.1,540.70H303.3" stroke="#333" stroke-width="1"/>
<text x="312.50" y="543.00" font-family="Liberation Sans" font-size="6.4" font-weight="normal" fill="#222" text-anchor="middle"  style="">65</text>
<text x="327.80" y="543.00" font-family="Liberation Sans" font-size="6.4" font-weight="normal" fill="#222" text-anchor="middle"  style="">64</text>
<text x="343.10" y="543.00" font-family="Liberation Sans" font-size="6.4" font-weight="normal" fill="#222" text-anchor="middle"  style="">56</text>
<text x="358.40" y="543.00" font-family="Liberation Sans" font-size="6.4" font-weight="normal" fill="#222" text-anchor="middle"  style="">50</text>
<text x="373.70" y="543.00" font-family="Liberation Sans" font-size="6.4" font-weight="normal" fill="#222" text-anchor="middle"  style="">43</text>
<text x="389.00" y="543.00" font-family="Liberation Sans" font-size="6.4" font-weight="normal" fill="#222" text-anchor="middle"  style="">36</text>
<text x="404.30" y="543.00" font-family="Liberation Sans" font-size="6.4" font-weight="normal" fill="#222" text-anchor="middle"  style="">29</text>
<text x="419.60" y="543.00" font-family="Liberation Sans" font-size="6.4" font-weight="normal" fill="#222" text-anchor="middle"  style="">22</text>
<text x="434.90" y="543.00" font-family="Liberation Sans" font-size="6.4" font-weight="normal" fill="#222" text-anchor="middle"  style="">18</text>
<text x="450.20" y="543.00" font-family="Liberation Sans" font-size="6.4" font-weight="normal" fill="#222" text-anchor="middle"  style="">14</text>
<text x="465.50" y="543.00" font-family="Liberation Sans" font-size="6.4" font-weight="normal" fill="#222" text-anchor="middle"  style="">8</text>
<text x="480.80" y="543.00" font-family="Liberation Sans" font-size="6.4" font-weight="normal" fill="#222" text-anchor="middle"  style="">4</text>
<text x="496.10" y="543.00" font-family="Liberation Sans" font-size="6.4" font-weight="normal" fill="#222" text-anchor="middle"  style="">1</text>
<path d="M287.8,549.90h9" stroke="#a8284a" stroke-width="1.3"/>
<path d="M300.1,549.90H303.3" stroke="#333" stroke-width="1"/>
<text x="312.50" y="552.20" font-family="Liberation Sans" font-size="6.4" font-weight="normal" fill="#222" text-anchor="middle"  style="">14</text>
<text x="327.80" y="552.20" font-family="Liberation Sans" font-size="6.4" font-weight="normal" fill="#222" text-anchor="middle"  style="">13</text>
<text x="343.10" y="552.20" font-family="Liberation Sans" font-size="6.4" font-weight="normal" fill="#222" text-anchor="middle"  style="">11</text>
<text x="358.40" y="552.20" font-family="Liberation Sans" font-size="6.4" font-weight="normal" fill="#222" text-anchor="middle"  style="">10</text>
<text x="373.70" y="552.20" font-family="Liberation Sans" font-size="6.4" font-weight="normal" fill="#222" text-anchor="middle"  style="">8</text>
<text x="389.00" y="552.20" font-family="Liberation Sans" font-size="6.4" font-weight="normal" fill="#222" text-anchor="middle"  style="">7</text>
<text x="404.30" y="552.20" font-family="Liberation Sans" font-size="6.4" font-weight="normal" fill="#222" text-anchor="middle"  style="">6</text>
<text x="419.60" y="552.20" font-family="Liberation Sans" font-size="6.4" font-weight="normal" fill="#222" text-anchor="middle"  style="">4</text>
<text x="434.90" y="552.20" font-family="Liberation Sans" font-size="6.4" font-weight="normal" fill="#222" text-anchor="middle"  style="">4</text>
<text x="450.20" y="552.20" font-family="Liberation Sans" font-size="6.4" font-weight="normal" fill="#222" text-anchor="middle"  style="">4</text>
<text x="465.50" y="552.20" font-family="Liberation Sans" font-size="6.4" font-weight="normal" fill="#222" text-anchor="middle"  style="">3</text>
<text x="480.80" y="552.20" font-family="Liberation Sans" font-size="6.4" font-weight="normal" fill="#222" text-anchor="middle"  style="">3</text>
<text x="496.10" y="552.20" font-family="Liberation Sans" font-size="6.4" font-weight="normal" fill="#222" text-anchor="middle"  style="">1</text>
<path d="M312.50,555.7V559" stroke="#333" stroke-width="1"/>
<text x="312.50" y="569.3" font-family="Liberation Sans" font-size="8.2" font-weight="normal" fill="#111" text-anchor="middle"  style="">0</text>
<path d="M327.80,555.7V559" stroke="#333" stroke-width="1"/>
<text x="327.80" y="569.3" font-family="Liberation Sans" font-size="8.2" font-weight="normal" fill="#111" text-anchor="middle"  style="">1</text>
<path d="M343.10,555.7V559" stroke="#333" stroke-width="1"/>
<text x="343.10" y="569.3" font-family="Liberation Sans" font-size="8.2" font-weight="normal" fill="#111" text-anchor="middle"  style="">2</text>
<path d="M358.40,555.7V559" stroke="#333" stroke-width="1"/>
<text x="358.40" y="569.3" font-family="Liberation Sans" font-size="8.2" font-weight="normal" fill="#111" text-anchor="middle"  style="">3</text>
<path d="M373.70,555.7V559" stroke="#333" stroke-width="1"/>
<text x="373.70" y="569.3" font-family="Liberation Sans" font-size="8.2" font-weight="normal" fill="#111" text-anchor="middle"  style="">4</text>
<path d="M389.00,555.7V559" stroke="#333" stroke-width="1"/>
<text x="389.00" y="569.3" font-family="Liberation Sans" font-size="8.2" font-weight="normal" fill="#111" text-anchor="middle"  style="">5</text>
<path d="M404.30,555.7V559" stroke="#333" stroke-width="1"/>
<text x="404.30" y="569.3" font-family="Liberation Sans" font-size="8.2" font-weight="normal" fill="#111" text-anchor="middle"  style="">6</text>
<path d="M419.60,555.7V559" stroke="#333" stroke-width="1"/>
<text x="419.60" y="569.3" font-family="Liberation Sans" font-size="8.2" font-weight="normal" fill="#111" text-anchor="middle"  style="">7</text>
<path d="M434.90,555.7V559" stroke="#333" stroke-width="1"/>
<text x="434.90" y="569.3" font-family="Liberation Sans" font-size="8.2" font-weight="normal" fill="#111" text-anchor="middle"  style="">8</text>
<path d="M450.20,555.7V559" stroke="#333" stroke-width="1"/>
<text x="450.20" y="569.3" font-family="Liberation Sans" font-size="8.2" font-weight="normal" fill="#111" text-anchor="middle"  style="">9</text>
<path d="M465.50,555.7V559" stroke="#333" stroke-width="1"/>
<text x="465.50" y="569.3" font-family="Liberation Sans" font-size="8.2" font-weight="normal" fill="#111" text-anchor="middle"  style="">10</text>
<path d="M480.80,555.7V559" stroke="#333" stroke-width="1"/>
<text x="480.80" y="569.3" font-family="Liberation Sans" font-size="8.2" font-weight="normal" fill="#111" text-anchor="middle"  style="">11</text>
<path d="M496.10,555.7V559" stroke="#333" stroke-width="1"/>
<text x="496.10" y="569.3" font-family="Liberation Sans" font-size="8.2" font-weight="normal" fill="#111" text-anchor="middle"  style="">12</text>
<text x="408.20" y="581.8" font-family="Liberation Sans" font-size="9" font-weight="normal" fill="#000" text-anchor="middle" textLength="37.5" lengthAdjust="spacingAndGlyphs" stroke="#000" stroke-width="0.3" style="">Time (years)</text>
<rect x="0.5" y="0.5" width="519" height="589" fill="none" stroke="#606060" stroke-width="1.2"/>
</svg>
</body></html>
